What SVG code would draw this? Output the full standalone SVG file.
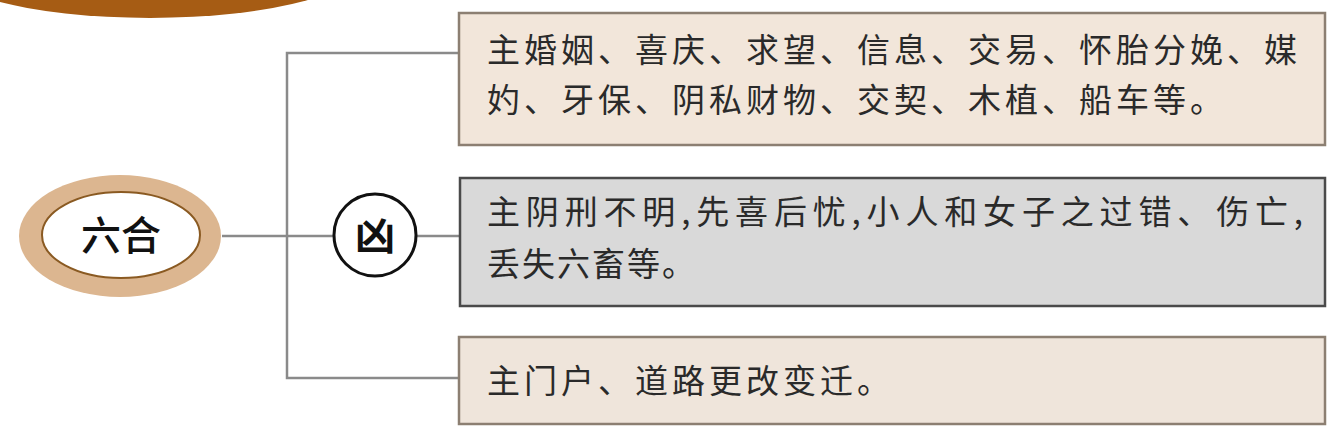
<svg xmlns="http://www.w3.org/2000/svg" width="1335" height="444" viewBox="0 0 1335 444">
<style>
.txt{font-family:"Noto Sans CJK SC","Noto Sans CJK JP",sans-serif;font-size:33px;fill:#2a2a2a;letter-spacing:4px}
.box{stroke-width:2.5}
.conn{stroke:#8a8a8a;stroke-width:2.5;fill:none}
</style>
<rect width="1335" height="444" fill="#ffffff"/>
<g id="top-ellipse">
<ellipse cx="150" cy="-42" rx="221" ry="60" fill="#a65c14"/>
</g>
<g id="connectors">
<line class="conn" x1="222" y1="236" x2="333" y2="236"/>
<line class="conn" x1="417" y1="236" x2="459" y2="236"/>
<polyline class="conn" points="459,53 287,53 287,378 459,378"/>
</g>
<g id="node-liuhe">
<ellipse cx="120" cy="236" rx="101" ry="61" fill="#dcb690"/>
<ellipse cx="121" cy="235" rx="79" ry="43" fill="#ffffff" stroke="#8a5a22" stroke-width="2"/>
<text x="121" y="250" text-anchor="middle" style="font-family:'Noto Sans CJK SC',sans-serif;font-size:40px;font-weight:500;fill:#111">六合</text>
</g>
<g id="node-xiong">
<circle cx="375" cy="235" r="41" fill="#ffffff" stroke="#111" stroke-width="3"/>
<text x="375" y="250" text-anchor="middle" style="font-family:'Noto Sans CJK SC',sans-serif;font-size:40px;font-weight:700;fill:#111">凶</text>
</g>
<g id="box-good">
<rect class="box" x="459" y="13" width="866" height="132" fill="#f2e6da" stroke="#8c7f72"/>
<text class="txt" x="487" y="62">主婚姻、喜庆、求望、信息、交易、怀胎分娩、媒</text>
<text class="txt" x="487" y="112">妁、牙保、阴私财物、交契、木植、船车等。</text>
</g>
<g id="box-bad">
<rect class="box" x="460" y="178" width="865" height="128" fill="#d9d9d9" stroke="#4a4a4a"/>
<text class="txt" x="487" y="224" textLength="816" lengthAdjust="spacing" style="letter-spacing:0">主阴刑不明,先喜后忧,小人和女子之过错、伤亡,</text>
<text class="txt" x="487" y="276" style="letter-spacing:2px">丢失六畜等。</text>
</g>
<g id="box-door">
<rect class="box" x="459" y="337" width="866" height="87" fill="#efe5db" stroke="#8c7f72"/>
<text class="txt" x="487" y="393">主门户、道路更改变迁。</text>
</g>
</svg>
